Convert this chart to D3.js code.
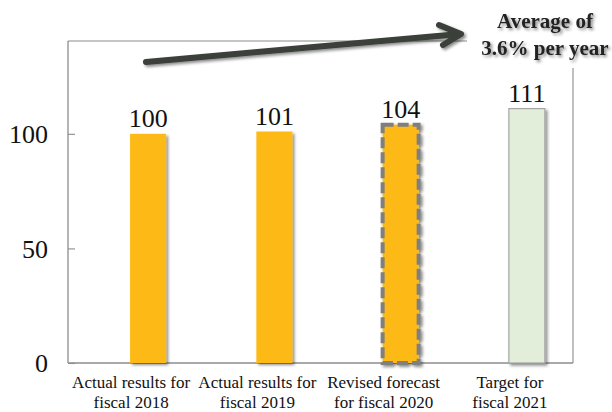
<!DOCTYPE html>
<html><head><meta charset="utf-8">
<script src="https://cdn.jsdelivr.net/npm/d3@7"></script>
<style>body{margin:0;background:#fff}svg{display:block}</style>
</head><body>
<svg id="c" width="612" height="412"></svg>
<script>
const categories = [["Actual results for","fiscal 2018"],["Actual results for","fiscal 2019"],["Revised forecast","for fiscal 2020"],["Target for","fiscal 2021"]];
const values = [100, 101, 104, 111];
const barKinds = ["actual","actual","forecast","target"];
const yTicks = [0, 50, 100];
const note = ["Average of","3.6% per year"];

const svg = d3.select("#c");
const L = 68, R = 573, T = 41, B = 363;
const x = d3.scaleBand().domain(d3.range(categories.length)).range([L, R]).padding(0);
const y = d3.scaleLinear().domain([0, 140.5]).range([B, T]);
const barW = 36, barOff = 17;
const serif = "'Liberation Serif','Times New Roman',serif";

const defs = svg.append("defs");
const f = defs.append("filter").attr("id","sh").attr("x","-20%").attr("y","-20%").attr("width","150%").attr("height","150%");
f.append("feDropShadow").attr("dx",2).attr("dy",2).attr("stdDeviation",1.5).attr("flood-color","#000").attr("flood-opacity",0.45);

// frame
const g = svg.append("g");
g.append("line").attr("x1",L).attr("x2",L).attr("y1",T).attr("y2",B).attr("stroke","#8c8c8c").attr("stroke-width",1.3);
g.append("line").attr("x1",L).attr("x2",R).attr("y1",B).attr("y2",B).attr("stroke","#8c8c8c").attr("stroke-width",1.3);
g.append("line").attr("x1",L).attr("x2",467).attr("y1",T).attr("y2",T).attr("stroke","#8c8c8c").attr("stroke-width",1.1);
g.append("line").attr("x1",R).attr("x2",R).attr("y1",68).attr("y2",B).attr("stroke","#8c8c8c").attr("stroke-width",1.1);

// y axis
const yAxis = d3.axisLeft(y).tickValues(yTicks).tickSize(-7).tickPadding(20).tickFormat(d3.format("d"));
const ya = svg.append("g").attr("transform",`translate(${L},0)`).call(yAxis);
ya.select(".domain").remove();
ya.selectAll(".tick line").attr("stroke","#8c8c8c").attr("stroke-width",1.1);
ya.selectAll(".tick text").attr("font-family",serif).attr("font-size",26).attr("fill","#111").attr("dy","0.34em");

// bars
const bars = svg.append("g");
values.forEach((v,i)=>{
  const bx = x(i) + x.bandwidth()/2 + barOff - barW/2;
  const kind = barKinds[i];
  const r = bars.append("rect").attr("x",bx).attr("y",y(v)).attr("width",barW).attr("height",y(0)-y(v)).attr("filter","url(#sh)");
  if(kind==="actual") r.attr("fill","#FDBA12");
  else if(kind==="forecast") r.attr("fill","#FDBA12").attr("stroke","#7f7f7f").attr("stroke-width",4).attr("stroke-dasharray","11,4");
  else r.attr("fill","#E2EED9").attr("stroke","#a6a6a6").attr("stroke-width",1.2);
  svg.append("text").attr("x",bx+barW/2).attr("y",y(v)-7).attr("text-anchor","middle")
    .attr("font-family",serif).attr("font-size",26).attr("fill","#111").text(v);
});

// category labels
categories.forEach((c,i)=>{
  const t = svg.append("text").attr("text-anchor","middle").attr("font-family",serif).attr("font-size",17).attr("fill","#111");
  c.forEach((line,j)=>t.append("tspan").attr("x",x(i)+x.bandwidth()/2).attr("y",388+j*20).text(line));
});

// arrow
const ag = svg.append("g").attr("filter","url(#sh)").attr("stroke","#3b3f3b").attr("stroke-width",6).attr("stroke-linecap","round").attr("fill","none").attr("stroke-linejoin","round");
ag.append("line").attr("x1",146).attr("y1",62).attr("x2",460).attr("y2",34);
ag.append("path").attr("d","M439,25 L461,34 L443,45");

// note
const nt = svg.append("text").attr("text-anchor","middle").attr("font-family",serif).attr("font-weight","bold").attr("font-size",21).attr("fill","#222").attr("filter","url(#sh)");
note.forEach((line,j)=>nt.append("tspan").attr("x",545).attr("y",28+j*27).text(line));
</script>
</body></html>
